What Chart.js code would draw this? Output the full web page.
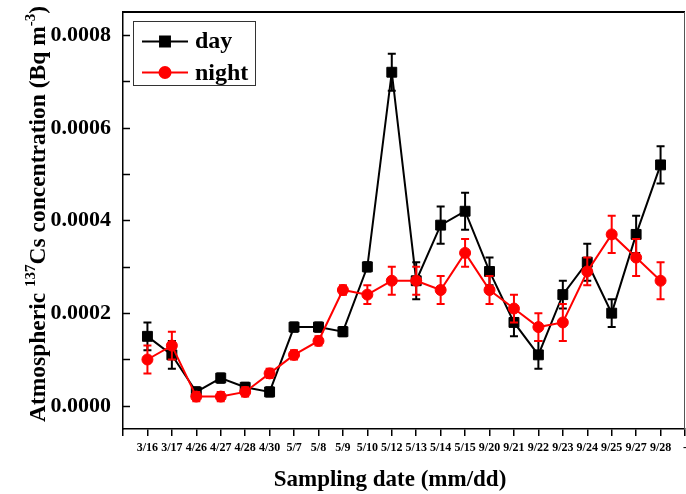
<!DOCTYPE html>
<html><head><meta charset="utf-8">
<script src="https://cdn.jsdelivr.net/npm/chart.js@4/dist/chart.umd.min.js"></script>
<style>html,body{margin:0;padding:0;background:#fff;} #wrap{width:686px;height:494px;position:relative;}</style>
</head><body><div id="wrap"><canvas id="c" width="686" height="494" style="width:686px;height:494px;"></canvas></div>
<script>
const dates = ['3/16','3/17','4/26','4/27','4/28','4/30','5/7','5/8','5/9','5/10','5/12','5/13','5/14','5/15','9/20','9/21','9/22','9/23','9/24','9/25','9/27','9/28'];
const dayValues = [0.00015,0.00011,0.00003,0.00006,0.00004,0.00003,0.00017,0.00017,0.00016,0.00030,0.00072,0.00027,0.00039,0.00042,0.00029,0.00018,0.00011,0.00024,0.00031,0.00020,0.00037,0.00052];
const dayErrors = [0.00003,0.00003,0.00001,0.00001,0.00001,0.00001,0.00001,0.00001,0.00001,0.00001,0.00004,0.00004,0.00004,0.00004,0.00003,0.00003,0.00003,0.00003,0.00004,0.00003,0.00004,0.00004];
const nightValues = [0.00010,0.00013,0.00002,0.00002,0.00003,0.00007,0.00011,0.00014,0.00025,0.00024,0.00027,0.00027,0.00025,0.00033,0.00025,0.00021,0.00017,0.00018,0.00029,0.00037,0.00032,0.00027];
const nightErrors = [0.00003,0.00003,0.00001,0.00001,0.00001,0.00001,0.00001,0.00001,0.00001,0.00002,0.00003,0.00003,0.00003,0.00003,0.00003,0.00003,0.00003,0.00004,0.00003,0.00004,0.00004,0.00004];
const xLabels = ['', ...dates, '-'];
const yTickValues = [0, 0.0001, 0.0002, 0.0003, 0.0004, 0.0005, 0.0006, 0.0007, 0.0008];
const yLabelValues = [0, 0.0002, 0.0004, 0.0006, 0.0008];
const xTitle = 'Sampling date (mm/dd)';

const FONT = "'Liberation Serif', 'Times New Roman', serif";
const pad = a => [null, ...a, null];
const zeroPad = s => { s.paddingTop = 0; s.paddingBottom = 0; s.paddingLeft = 0; s.paddingRight = 0; };
const radiusFor = r => ctx => (ctx.raw == null ? 0 : r);

const errorBars = {
  id: 'errorBars',
  beforeDatasetDraw(chart, args) {
    const ds = chart.data.datasets[args.index];
    if (!ds.errors) return;
    const ctx = chart.ctx, y = chart.scales.y;
    ctx.save();
    ctx.strokeStyle = ds.borderColor; ctx.lineWidth = 2;
    args.meta.data.forEach((pt, i) => {
      const v = ds.data[i], e = ds.errors[i];
      if (v == null || e == null) return;
      const yt = y.getPixelForValue(v + e), yb = y.getPixelForValue(v - e), x = pt.x;
      ctx.beginPath();
      ctx.moveTo(x, yt); ctx.lineTo(x, yb);
      ctx.moveTo(x - 4, yt); ctx.lineTo(x + 4, yt);
      ctx.moveTo(x - 4, yb); ctx.lineTo(x + 4, yb);
      ctx.stroke();
    });
    ctx.restore();
  }
};

const frame = {
  id: 'frame',
  afterDraw(chart) {
    const ctx = chart.ctx, a = chart.chartArea, y = chart.scales.y;
    ctx.save();
    ctx.strokeStyle = '#000'; ctx.lineWidth = 2;
    ctx.beginPath(); ctx.moveTo(a.left, a.top); ctx.lineTo(a.right, a.top); ctx.stroke();
    ctx.strokeStyle = '#555'; ctx.lineWidth = 1;
    ctx.beginPath(); ctx.moveTo(a.right - 0.5, a.top); ctx.lineTo(a.right - 0.5, a.bottom); ctx.stroke();
    ctx.strokeStyle = '#000'; ctx.lineWidth = 1.5;
    yTickValues.forEach(v => {
      const py = Math.round(y.getPixelForValue(v)) + 0.5;
      ctx.beginPath(); ctx.moveTo(a.left, py); ctx.lineTo(a.left + 7, py); ctx.stroke();
    });
    // legend
    ctx.strokeStyle = '#333'; ctx.lineWidth = 1;
    ctx.strokeRect(133.5, 21.5, 122, 64);
    const rows = [[chart.data.datasets[0], 41.5, 48, 7], [chart.data.datasets[1], 72.5, 80, 5.5]];
    rows.forEach(([ds, cy, by, r]) => {
      ctx.strokeStyle = ds.borderColor; ctx.lineWidth = 2;
      ctx.beginPath(); ctx.moveTo(142, cy); ctx.lineTo(188, cy); ctx.stroke();
      ctx.fillStyle = ds.backgroundColor;
      Chart.helpers.drawPoint(ctx, {pointStyle: ds.pointStyle, radius: r, rotation: 0, borderWidth: 1}, 165, cy);
      ctx.fillStyle = '#000';
      ctx.font = "bold 24px " + FONT;
      ctx.textBaseline = 'alphabetic'; ctx.textAlign = 'left';
      ctx.fillText(ds.label, 195, by);
    });
    // x title
    ctx.fillStyle = '#000';
    ctx.font = 'bold 23px ' + FONT;
    ctx.textAlign = 'center'; ctx.textBaseline = 'middle';
    ctx.fillText(xTitle, 390, 480);
    // y title with superscripts
    const segs = [
      {t: 'Atmospheric ', s: 23.5, r: 0},
      {t: '137', s: 15, r: 10},
      {t: 'Cs concentration (Bq m', s: 23.5, r: 0},
      {t: '-3', s: 15, r: 10},
      {t: ')', s: 23.5, r: 0}
    ];
    let total = 0;
    segs.forEach(g => { ctx.font = 'bold ' + g.s + 'px ' + FONT; g.w = ctx.measureText(g.t).width; total += g.w; });
    ctx.translate(45, 214);
    ctx.rotate(-Math.PI / 2);
    let x0 = -total / 2;
    ctx.fillStyle = '#000'; ctx.textAlign = 'left'; ctx.textBaseline = 'alphabetic';
    segs.forEach(g => { ctx.font = 'bold ' + g.s + 'px ' + FONT; ctx.fillText(g.t, x0, -g.r); x0 += g.w; });
    ctx.restore();
  }
};

new Chart(document.getElementById('c'), {
  type: 'line',
  data: {
    labels: xLabels,
    datasets: [
      {label: 'day', data: pad(dayValues), errors: pad(dayErrors), borderColor: '#000000', backgroundColor: '#000000',
       pointStyle: 'rect', pointRadius: radiusFor(7), pointHoverRadius: radiusFor(7), borderWidth: 2, pointBorderWidth: 1, tension: 0, order: 1},
      {label: 'night', data: pad(nightValues), errors: pad(nightErrors), borderColor: '#ff0000', backgroundColor: '#ff0000',
       pointStyle: 'circle', pointRadius: radiusFor(5.5), pointHoverRadius: radiusFor(5.5), borderWidth: 2, pointBorderWidth: 1, tension: 0, order: 0}
    ]
  },
  options: {
    responsive: false, animation: false, devicePixelRatio: 1,
    layout: {padding: {top: 12, right: 1, left: 0, bottom: 0}},
    plugins: {legend: {display: false}, tooltip: {enabled: false}},
    scales: {
      x: {
        type: 'category', offset: false,
        grid: {drawOnChartArea: false, drawTicks: true, tickLength: 7, color: '#000', lineWidth: 1.5},
        border: {color: '#000', width: 1.5},
        ticks: {color: '#000', font: {family: FONT, weight: 'bold', size: 12}, padding: 5, maxRotation: 0, autoSkip: false},
        title: {display: false},
        afterFit(s) { s.height = 65; zeroPad(s); }
      },
      y: {
        min: -0.00005, max: 0.00085,
        grid: {drawOnChartArea: false, drawTicks: false},
        border: {color: '#000', width: 1.5},
        afterBuildTicks(s) { s.ticks = yTickValues.map(v => ({value: v})); },
        ticks: {color: '#000', padding: 12, autoSkip: false, font: {family: FONT, weight: 'bold', size: 22},
          callback(v) { const m = yLabelValues.find(t => Math.abs(t - v) < 1e-9); return m === undefined ? '' : m.toFixed(4); }},
        afterFit(s) { s.width = 123; zeroPad(s); }
      }
    }
  },
  plugins: [errorBars, frame]
});
</script></body></html>
